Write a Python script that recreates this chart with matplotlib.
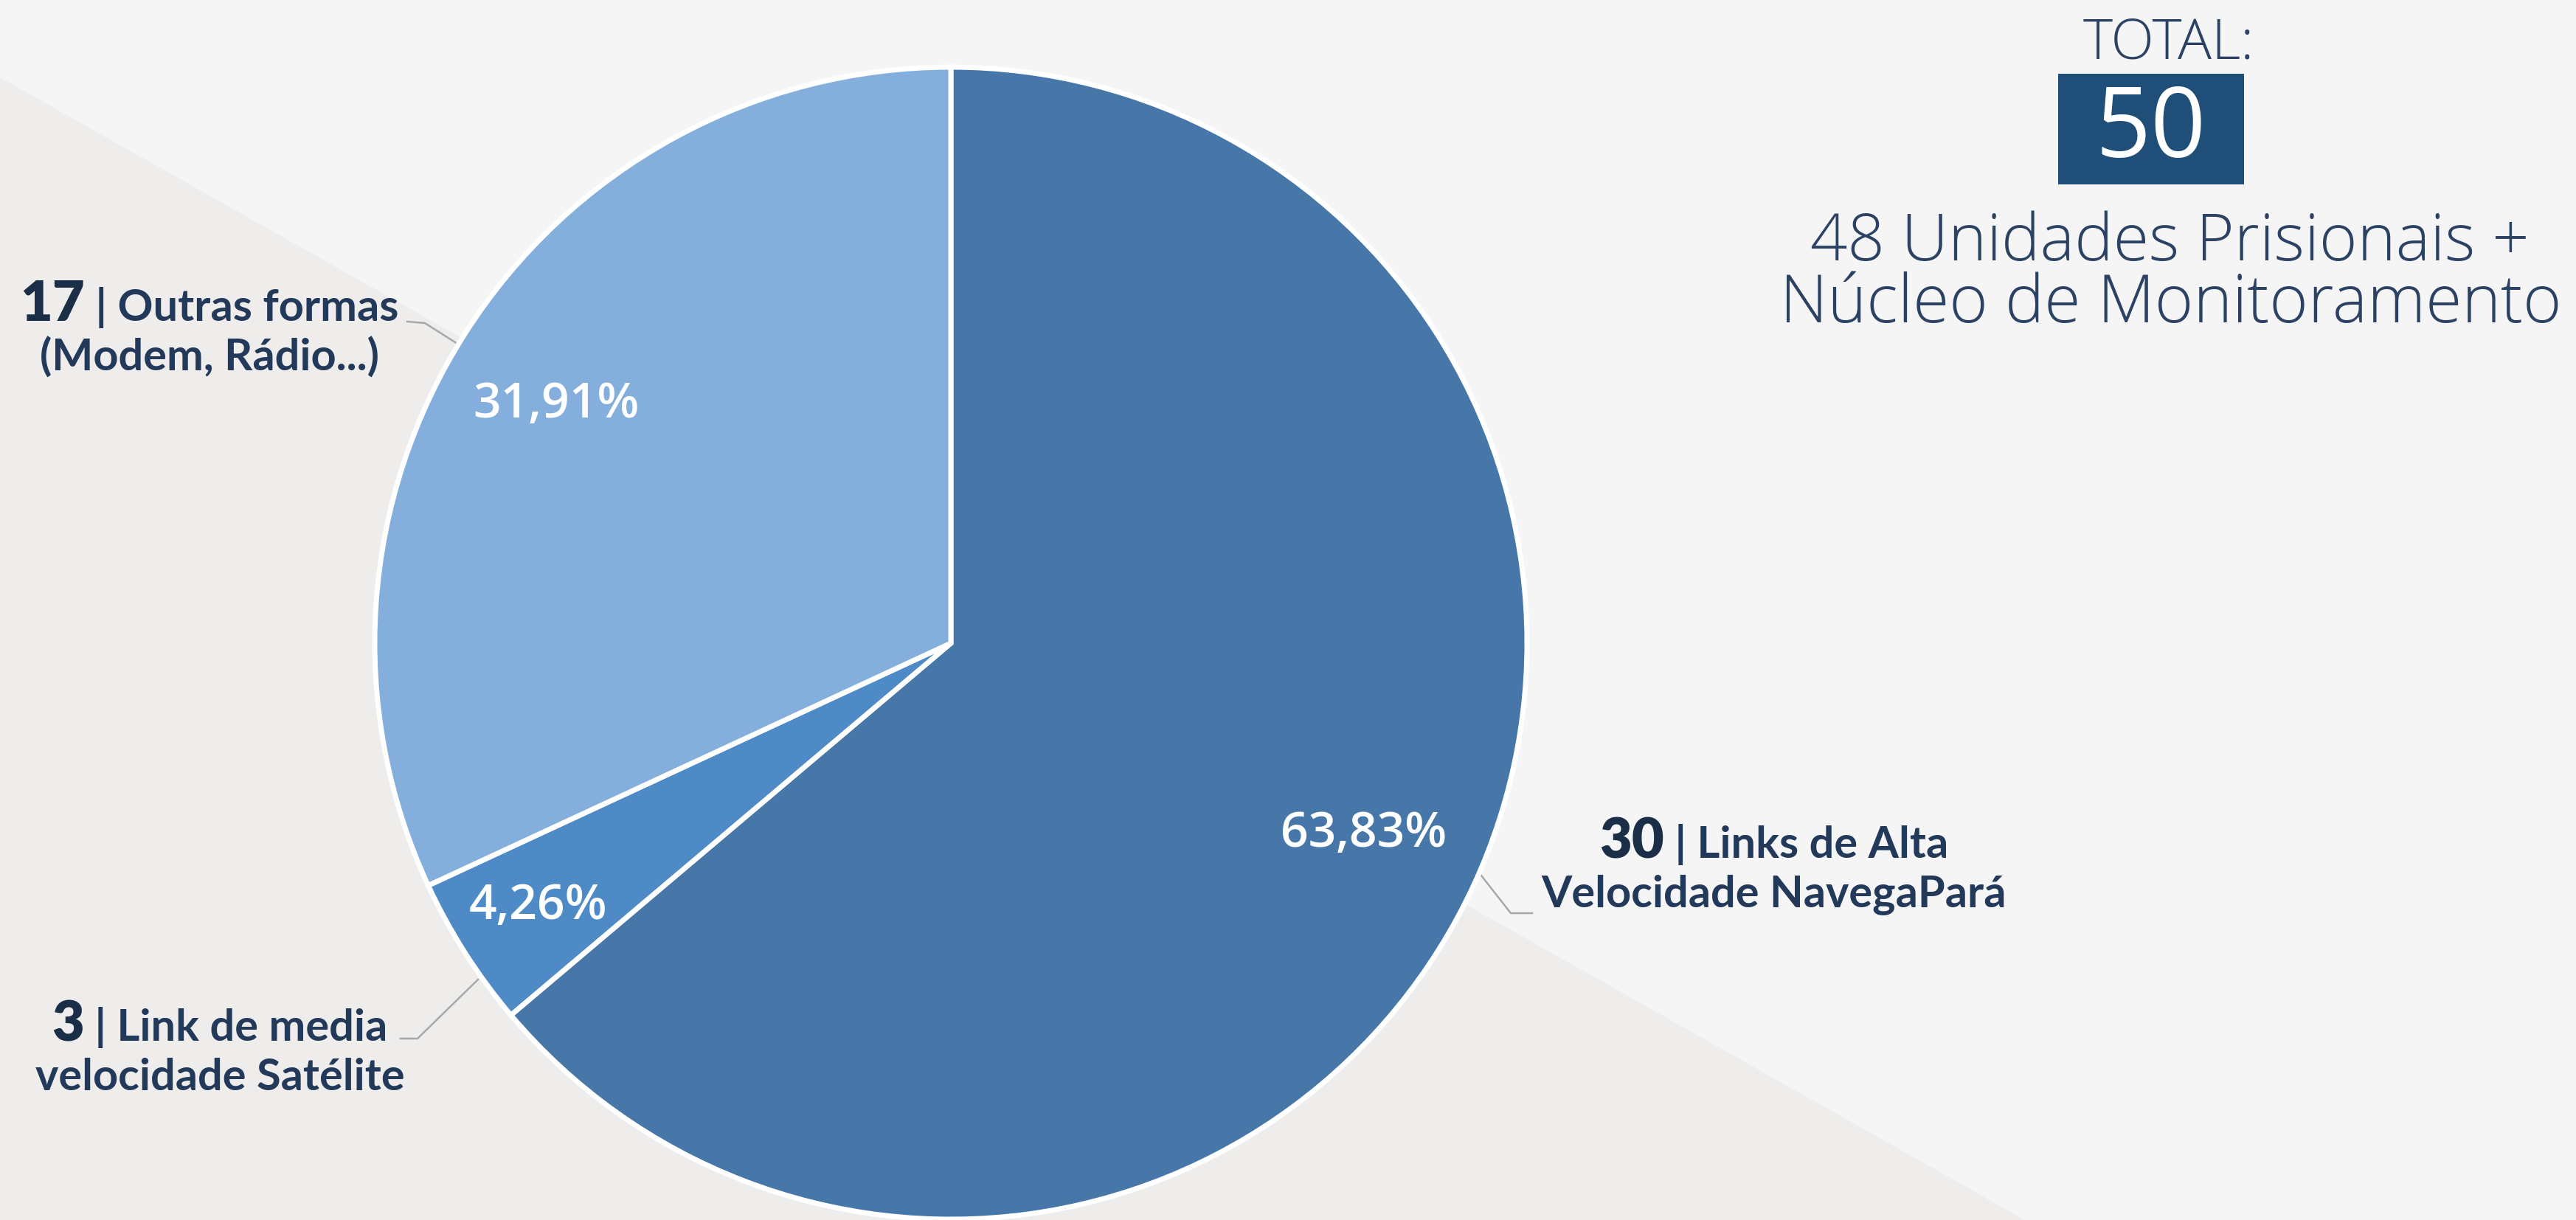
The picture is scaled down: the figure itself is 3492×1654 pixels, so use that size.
import numpy as np
import matplotlib
matplotlib.use("Agg")
import matplotlib.pyplot as plt
from matplotlib.patches import Polygon, Rectangle

# ---------------- data ----------------
categories = ["Links de Alta Velocidade NavegaPará",
              "Link de media velocidade Satélite",
              "Outras formas (Modem, Rádio...)"]
counts = [30, 3, 17]
percentages = [63.83, 4.26, 31.91]
label_line1 = ["Links de Alta", "Link de media", "Outras formas"]
label_line2 = ["Velocidade NavegaPará", "velocidade Satélite", "(Modem, Rádio...)"]
total_value = 50
total_title = "TOTAL:"
total_sub = ["48 Unidades Prisionais +", "Núcleo de Monitoramento"]
colors = ["#4777a8", "#4e8ac5", "#84aedb"]

W, H = 3492, 1654
fig = plt.figure(figsize=(W / 100, H / 100), dpi=100, facecolor="#f5f5f5")
ax = fig.add_axes([0, 0, 1, 1])
ax.set_facecolor("#f5f5f5")


def Y(y):
    return H - y


# background diagonal shape
ax.add_patch(Polygon([(0, Y(105)), (2745, Y(H)), (0, Y(H))], closed=True,
                     facecolor="#eeedeb", edgecolor="none", zorder=0))

cx, cy, R = 1289, Y(872), 781


def fmt(p):
    return f"{p:.2f}%".replace(".", ",")


wedges, texts, autotexts = ax.pie(
    percentages, colors=colors, startangle=90, counterclock=False,
    center=(cx, cy), radius=R, autopct=fmt, pctdistance=0.8,
    wedgeprops=dict(edgecolor="white", linewidth=5),
    textprops=dict(color="white", family="Open Sans", fontweight="semibold", fontsize=40),
    frame=True)
for w in wedges:
    w.set_zorder(2)

# radial placement of the percentage labels
pct_r = [0.79, 0.85, 0.80]
pct_da = [0.0, 0.0, 1.5]
for w, t, r, da in zip(wedges, autotexts, pct_r, pct_da):
    ang = np.deg2rad((w.theta1 + w.theta2) / 2 + da)
    t.set_position((cx + r * R * np.cos(ang), cy + r * R * np.sin(ang)))
    t.set_zorder(3)

ax.set_xlim(0, W)
ax.set_ylim(0, H)
ax.set_aspect("equal")
ax.axis("off")

fig.canvas.draw()
rend = fig.canvas.get_renderer()


def width(t):
    return t.get_window_extent(rend).width


def fit(t, target):
    t.set_fontsize(t.get_fontsize() * target / width(t))


# percentage labels size
fit(autotexts[0], 225)
for t in autotexts[1:]:
    t.set_fontsize(autotexts[0].get_fontsize())

navy = "#22395a"
numc = "#1b2e48"
lab_font = "Lato"

probe = ax.text(0, 0, label_line2[0], family=lab_font, fontweight="bold", fontsize=40)
fit(probe, 630)
fs = probe.get_fontsize()
probe.remove()
nfs = fs * 1.27

# label centers (x, baseline1, baseline2) in image coords
label_pos = [(2405, 1163, 1230), (298, 1411, 1478), (284, 435, 503)]

for i in range(3):
    x0, b1, b2 = label_pos[i]
    tn = ax.text(0, Y(b1), str(counts[i]), family=lab_font, fontweight="heavy",
                 fontsize=nfs, color=numc, ha="left", va="baseline", zorder=4)
    tr = ax.text(0, Y(b1), " | " + label_line1[i], family=lab_font, fontweight="bold",
                 fontsize=fs, color=navy, ha="left", va="baseline", zorder=4)
    wn, wr = width(tn), width(tr)
    start = x0 - (wn + wr) / 2
    tn.set_x(start)
    tr.set_x(start + wn)
    ax.text(x0, Y(b2), label_line2[i], family=lab_font, fontweight="bold",
            fontsize=fs, color=navy, ha="center", va="baseline", zorder=4)

# leader lines
lc = "#a8a8a8"
ax.plot([2008, 2048, 2077], [Y(1187), Y(1238), Y(1238)], color=lc, lw=1.8, zorder=1.5)
ax.plot([543, 566, 648], [Y(1408), Y(1408), Y(1328)], color=lc, lw=1.8, zorder=1.5)
ax.plot([552, 576, 620], [Y(436), Y(438), Y(466)], color=lc, lw=1.8, zorder=1.5)

# total block
tcol = "#2c4264"
light_font = "Open Sans"
tt = ax.text(2940, Y(60), total_title, family=light_font, fontweight="light", fontsize=40,
             color=tcol, ha="center", va="center")
fit(tt, 232)
bx0, bx1, by0, by1 = 2790, 3042, 100, 250
ax.add_patch(Rectangle((bx0, Y(by1)), bx1 - bx0, by1 - by0, facecolor="#1f4e79",
                       edgecolor="none", zorder=3))
t50 = ax.text((bx0 + bx1) / 2, Y((by0 + by1) / 2) - 4, str(total_value), family="Open Sans",
              fontsize=90, color="white", ha="center", va="center", zorder=4)
fit(t50, 150)
s1 = ax.text(2941, Y(330), total_sub[0], family=light_font, fontweight="light", fontsize=50,
             color=tcol, ha="center", va="center")
fit(s1, 975)
s2 = ax.text(2943, Y(414), total_sub[1], family=light_font, fontweight="light", fontsize=50,
             color=tcol, ha="center", va="center")
fit(s2, 1060)

fig.savefig("out.png", dpi=100, facecolor=fig.get_facecolor())
